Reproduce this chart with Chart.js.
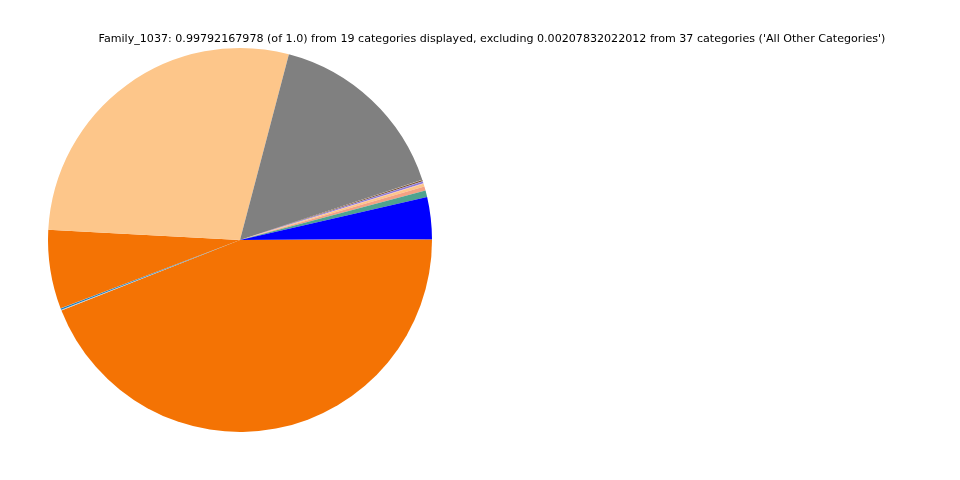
<!DOCTYPE html>
<html lang="en">
<head>
    <meta charset="UTF-8">
    <title>Family_1037</title>
    <script src="https://cdn.jsdelivr.net/npm/chart.js"></script>
    <style>
        html, body { margin: 0; padding: 0; background: #fff; }
        .chart-container { position: relative; width: 960px; height: 480px; }
    </style>
</head>
<body>
    <div class="chart-container">
        <canvas id="familyChart"></canvas>
    </div>

    <script>
        // slices in matplotlib order (counter-clockwise from 3 o'clock)
        const categories = ['Cat 1', 'Cat 2', 'Cat 3', 'Cat 4', 'Cat 5', 'Cat 6', 'Cat 7', 'Cat 8', 'Cat 9',
            'Cat 10', 'Cat 11', 'Cat 12', 'Cat 13', 'Cat 14', 'Cat 15', 'Cat 16', 'Cat 17', 'Cat 18', 'Cat 19'];
        const fractions = [0.0008, 0.0350, 0.0055, 0.0035, 0.0025, 0.0003, 0.0015, 0.0003, 0.0010,
            0.0003, 0.1578, 0.2819, 0.0661, 0.0002, 0.0012, 0.0002, 0.0002, 0.0002, 0.4391];
        const colors = ['#a0709f', '#0000ff', '#4fa38f', '#f3a184', '#fdc68a', '#e8b0c8', '#8a78d8', '#c0c0c0', '#7a5230',
            '#d0d0d0', '#808080', '#fdc68a', '#f47304', '#999999', '#1a7fc0', '#cccccc', '#aaaaaa', '#e0e0e0', '#f47304'];
        const titleText = "Family_1037: 0.99792167978 (of 1.0) from 19 categories displayed, excluding 0.00207832022012 from 37 categories ('All Other Categories')";

        // Chart.js draws clockwise, so reverse the order to get matplotlib's counter-clockwise layout
        const labelsCw = categories.slice().reverse();
        const valuesCw = fractions.slice().reverse();
        const colorsCw = colors.slice().reverse();

        const titlePlugin = {
            id: 'figTitle',
            afterDraw(chart) {
                const ctx = chart.ctx;
                ctx.save();
                ctx.font = '11.1px "DejaVu Sans"';
                ctx.fillStyle = '#000';
                ctx.textAlign = 'center';
                ctx.textBaseline = 'middle';
                ctx.fillText(titleText, 492, 39.5);
                ctx.restore();
            }
        };

        const ctx = document.getElementById('familyChart').getContext('2d');
        new Chart(ctx, {
            type: 'pie',
            data: {
                labels: labelsCw,
                datasets: [{
                    data: valuesCw,
                    backgroundColor: colorsCw,
                    borderWidth: 0
                }]
            },
            options: {
                responsive: true,
                maintainAspectRatio: false,
                animation: false,
                rotation: 90,
                layout: {
                    padding: { left: 48, right: 528, top: 48, bottom: 48 }
                },
                plugins: {
                    legend: { display: false },
                    tooltip: { enabled: false }
                }
            },
            plugins: [titlePlugin]
        });
    </script>
</body>
</html>
